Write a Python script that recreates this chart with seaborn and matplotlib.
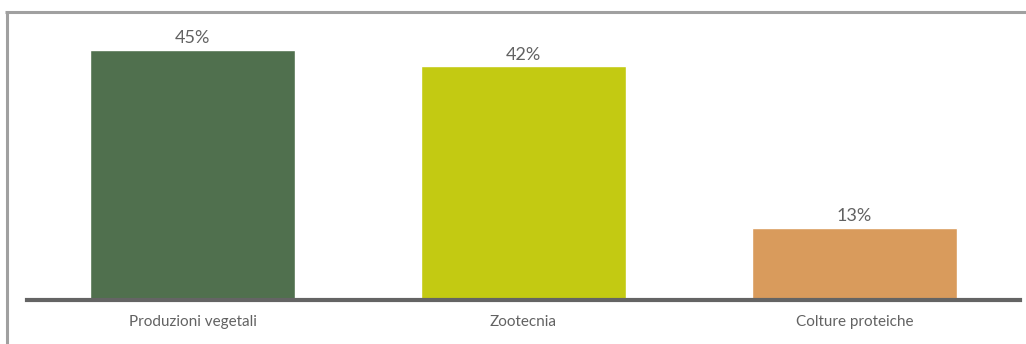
import matplotlib
matplotlib.use("Agg")
import matplotlib.pyplot as plt
import seaborn as sns
import pandas as pd
from matplotlib.lines import Line2D

categories = ["Produzioni vegetali", "Zootecnia", "Colture proteiche"]
values = [45, 42, 13]
value_labels = ["45%", "42%", "13%"]
colors = ["#50704E", "#C3CA12", "#D99B5C"]

sns.set_theme(style="white")
plt.rcParams['font.family'] = ['Lato', 'DejaVu Sans']

df = pd.DataFrame({"cat": categories, "val": values})

fig = plt.figure(figsize=(10.26, 3.44), dpi=100)
ax = fig.add_axes([27/1026, 1 - 300/344, (1020-27)/1026, (300-22)/344])

sns.barplot(data=df, x="cat", y="val", hue="cat", palette=colors, legend=False,
            width=0.62, saturation=1, ax=ax)

ax.set_xlim(-0.5, 2.5)
ax.set_ylim(0, 50)
for s in ["top", "right", "left"]:
    ax.spines[s].set_visible(False)
ax.spines["bottom"].set_color("#646464")
ax.spines["bottom"].set_linewidth(3)
ax.set_yticks([])
ax.set_xlabel("")
ax.set_ylabel("")
ax.tick_params(axis="x", length=0, pad=11, labelsize=11, labelcolor="#626262")

for p, lab in zip(ax.patches, value_labels):
    ax.annotate(lab, (p.get_x() + p.get_width()/2, p.get_height()),
                xytext=(0, 2.5), textcoords="offset points",
                ha="center", va="bottom", fontsize=13,
                color="#626262")

# outer frame (left and top lines)
fig.add_artist(Line2D([6.5/1026, 6.5/1026], [0, 1 - 11.5/344], transform=fig.transFigure,
                      color="#A0A0A0", linewidth=2.2, solid_capstyle="butt"))
fig.add_artist(Line2D([5.4/1026, 1], [1 - 11.5/344, 1 - 11.5/344], transform=fig.transFigure,
                      color="#A0A0A0", linewidth=2.2, solid_capstyle="butt"))

fig.savefig("out.png", dpi=100)
